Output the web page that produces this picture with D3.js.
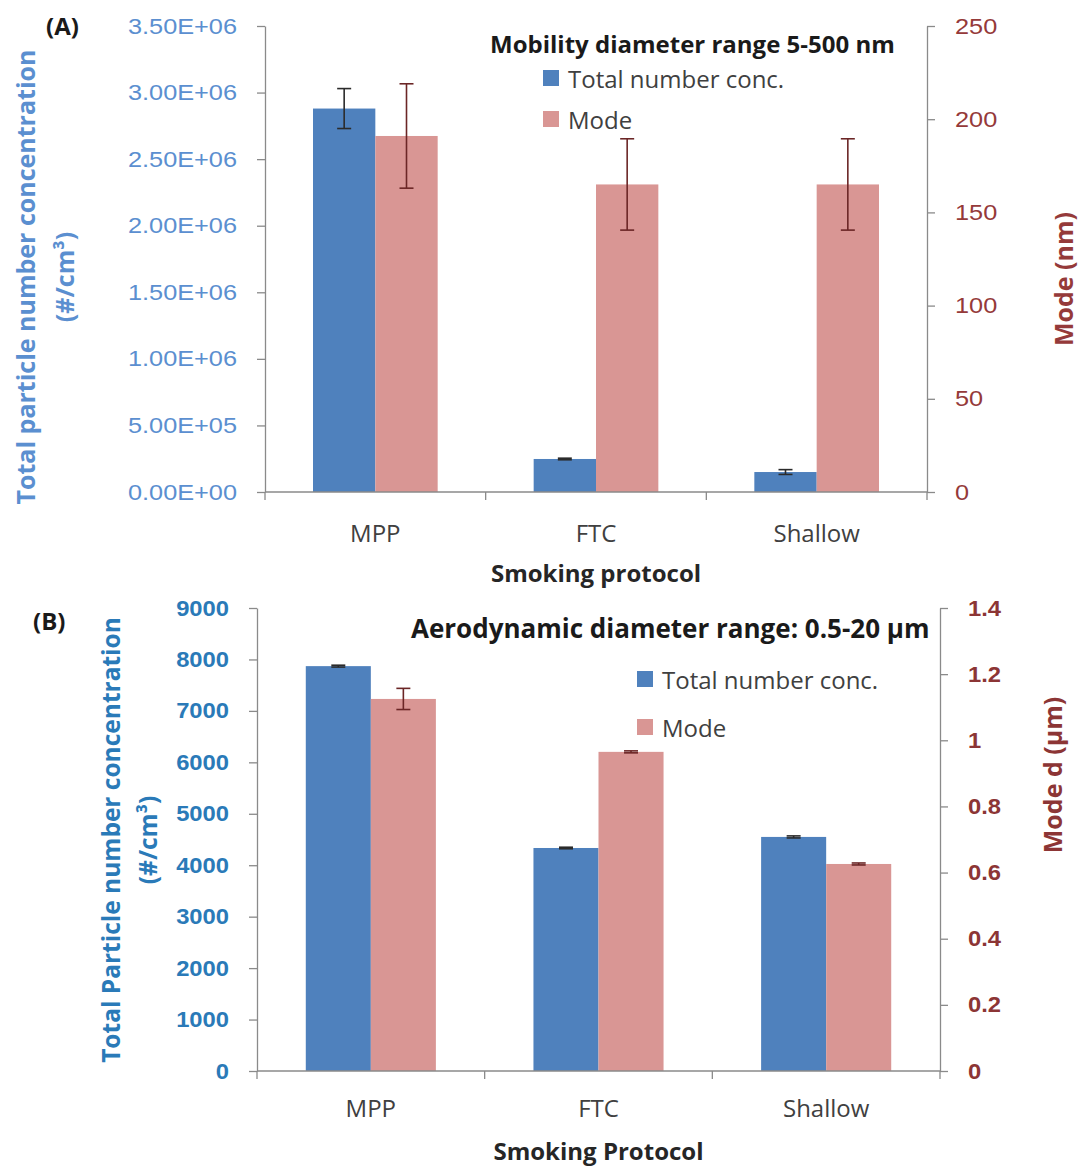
<!DOCTYPE html>
<html>
<head>
<meta charset="utf-8">
<script src="https://cdn.jsdelivr.net/npm/d3@7"></script>
<style>
  body { margin: 0; background: #fff; }
  svg { display: block; font-family: "Open Sans", "Liberation Sans", sans-serif; }
</style>
</head>
<body>
<svg id="chart" width="1088" height="1169"></svg>
<script>
// ---- data ----
const categories = ["MPP", "FTC", "Shallow"];
const seriesNames = ["Total number conc.", "Mode"];

// (A) mobility diameter range 5-500 nm
const totalConcA = [2.88e6, 2.48e5, 1.50e5];
const totalConcErrA = [1.5e5, 6e3, 1.8e4];
const modeNmA = [191, 165, 165];
const modeNmErrA = [28, 24.5, 24.5];
const leftTicksA = [0, 5e5, 1e6, 1.5e6, 2e6, 2.5e6, 3e6, 3.5e6];
const rightTicksA = [0, 50, 100, 150, 200, 250];

// (B) aerodynamic diameter range 0.5-20 µm
const totalConcB = [7870, 4335, 4550];
const totalConcErrB = [18, 15, 20];
const modeUmB = [1.125, 0.965, 0.626];
const modeUmErrB = [0.032, 0.003, 0.003];
const leftTicksB = [0, 1000, 2000, 3000, 4000, 5000, 6000, 7000, 8000, 9000];
const rightTicksB = [0, 0.2, 0.4, 0.6, 0.8, 1, 1.2, 1.4];

// ---- styles ----
const BAR_COLORS = ["#4f81bd", "#d99694"];
const ERR_COLORS = ["#2b2b2b", "#6b2626"];
const AXIS_COLOR = "#8a8a8a";
const TEXT_DARK = "#404040";

const svg = d3.select("#chart");

// Excel-style "0.00E+00" tick labels
function sciFmt(v) {
  if (v === 0) return "0.00E+00";
  const e = Math.floor(Math.log10(v));
  const m = v / Math.pow(10, e);
  return m.toFixed(2) + "E+" + String(e).padStart(2, "0");
}

// stretch glyphs horizontally by factor k
function widen(sel, k) {
  sel.each(function () {
    const L = this.getComputedTextLength();
    this.setAttribute("textLength", L * k);
    this.setAttribute("lengthAdjust", "spacingAndGlyphs");
  });
}

function drawPanel(p) {
  const g = svg.append("g");

  const x = d3.scaleBand().domain(categories).range([p.x0, p.x1]);
  const sub = d3.scaleBand().domain([0, 1]).range([0, x.bandwidth()])
    .paddingInner(0).paddingOuter(p.outerPad);
  const yL = d3.scaleLinear().domain([0, d3.max(p.leftTicks)]).range([p.y1, p.y0]);
  const yR = d3.scaleLinear().domain([0, d3.max(p.rightTicks)]).range([p.y1, p.y0]);
  const scales = [yL, yR];

  const rows = [];
  categories.forEach((c, i) => {
    p.series.forEach((s, si) => {
      rows.push({ cat: c, si, v: s.values[i], e: s.errors[i] });
    });
  });

  // bars
  g.append("g").selectAll("rect").data(rows).join("rect")
    .attr("x", d => x(d.cat) + sub(d.si))
    .attr("width", sub.bandwidth())
    .attr("y", d => scales[d.si](d.v))
    .attr("height", d => p.y1 - scales[d.si](d.v))
    .attr("fill", d => BAR_COLORS[d.si]);

  // error bars
  const capW = 7;
  const eg = g.append("g").selectAll("g").data(rows).join("g")
    .attr("stroke", d => ERR_COLORS[d.si])
    .attr("stroke-width", 1.6)
    .attr("fill", "none");
  const cx = d => x(d.cat) + sub(d.si) + sub.bandwidth() / 2;
  eg.append("line")
    .attr("x1", cx).attr("x2", cx)
    .attr("y1", d => scales[d.si](d.v + d.e))
    .attr("y2", d => scales[d.si](d.v - d.e));
  eg.append("line")
    .attr("x1", d => cx(d) - capW).attr("x2", d => cx(d) + capW)
    .attr("y1", d => scales[d.si](d.v + d.e)).attr("y2", d => scales[d.si](d.v + d.e));
  eg.append("line")
    .attr("x1", d => cx(d) - capW).attr("x2", d => cx(d) + capW)
    .attr("y1", d => scales[d.si](d.v - d.e)).attr("y2", d => scales[d.si](d.v - d.e));

  // left axis
  const axL = g.append("g").attr("transform", `translate(${p.x0},0)`)
    .call(d3.axisLeft(yL).tickValues(p.leftTicks).tickFormat(p.leftFmt)
      .tickSize(8).tickSizeOuter(0).tickPadding(p.tickPad));
  // right axis
  const axR = g.append("g").attr("transform", `translate(${p.x1},0)`)
    .call(d3.axisRight(yR).tickValues(p.rightTicks).tickFormat(p.rightFmt)
      .tickSize(8).tickSizeOuter(0).tickPadding(p.tickPad));
  [axL, axR].forEach(a => {
    a.selectAll("path, line").attr("stroke", AXIS_COLOR).attr("stroke-width", 1.3);
    a.selectAll("text").attr("font-family", null)
      .attr("font-size", p.tickSize).attr("font-weight", p.tickWeight);
  });
  axL.selectAll("text").attr("fill", p.leftColor);
  axR.selectAll("text").attr("fill", p.rightColor);
  widen(axL.selectAll("text"), p.tickStretch);
  widen(axR.selectAll("text"), p.tickStretch);

  // category axis: baseline, boundary ticks and labels
  const xa = g.append("g");
  xa.append("line").attr("x1", p.x0).attr("x2", p.x1)
    .attr("y1", p.y1).attr("y2", p.y1)
    .attr("stroke", AXIS_COLOR).attr("stroke-width", 1.3);
  const bounds = d3.range(categories.length + 1).map(i => p.x0 + i * x.step());
  xa.selectAll("line.tk").data(bounds).join("line").attr("class", "tk")
    .attr("x1", d => d).attr("x2", d => d)
    .attr("y1", p.y1).attr("y2", p.y1 + 8)
    .attr("stroke", AXIS_COLOR).attr("stroke-width", 1.3);
  xa.selectAll("text").data(categories).join("text")
    .attr("x", d => x(d) + x.bandwidth() / 2)
    .attr("y", p.xLabelY)
    .attr("text-anchor", "middle")
    .attr("font-size", 24)
    .attr("fill", TEXT_DARK)
    .text(d => d);

  // x-axis title
  g.append("text")
    .attr("x", (p.x0 + p.x1) / 2).attr("y", p.xTitleY)
    .attr("text-anchor", "middle")
    .attr("font-size", 24).attr("font-weight", 700)
    .attr("fill", "#262626")
    .text(p.xTitle);

  // left title (two rotated lines)
  p.leftTitle.forEach((t, i) => {
    g.append("text")
      .attr("transform", `translate(${p.leftTitleX[i]},${p.leftTitleY}) rotate(-90)`)
      .attr("text-anchor", "middle")
      .attr("dominant-baseline", "central")
      .attr("font-size", p.leftTitleSize).attr("font-weight", 700)
      .attr("fill", p.leftColor)
      .text(t);
  });

  // right title
  g.append("text")
    .attr("transform", `translate(${p.rightTitleX},${p.rightTitleY}) rotate(-90)`)
    .attr("text-anchor", "middle")
    .attr("dominant-baseline", "central")
    .attr("font-size", 25).attr("font-weight", 700)
    .attr("fill", p.rightColor)
    .text(p.rightTitle);

  // legend
  g.append("text")
    .attr("x", p.legTitleX).attr("y", p.legTitleY)
    .attr("font-size", p.legTitleSize).attr("font-weight", 700)
    .attr("fill", "#1a1a1a")
    .text(p.legTitle);
  seriesNames.forEach((n, i) => {
    const cy = p.legRowY[i];
    g.append("rect")
      .attr("x", p.legBoxX).attr("y", cy - 8)
      .attr("width", 16).attr("height", 16)
      .attr("fill", BAR_COLORS[i]);
    g.append("text")
      .attr("x", p.legBoxX + 25).attr("y", cy)
      .attr("dominant-baseline", "central")
      .attr("font-size", 24)
      .attr("fill", TEXT_DARK)
      .text(n);
  });

  // panel tag
  g.append("text")
    .attr("x", p.tagX).attr("y", p.tagY)
    .attr("font-size", 24).attr("font-weight", 700)
    .attr("fill", "#1a1a1a")
    .text(p.tag);
}

drawPanel({
  tag: "(A)", tagX: 46, tagY: 35,
  x0: 265, x1: 927, y0: 26, y1: 492, outerPad: 0.77,
  series: [
    { values: totalConcA, errors: totalConcErrA },
    { values: modeNmA, errors: modeNmErrA }
  ],
  leftTicks: leftTicksA, rightTicks: rightTicksA,
  leftFmt: sciFmt, rightFmt: d3.format("d"),
  tickPad: 20, tickSize: 22, tickWeight: 400, tickStretch: 1.15,
  leftColor: "#5b8fd0", rightColor: "#953a3a",
  xLabelY: 542, xTitleY: 582, xTitle: "Smoking protocol",
  leftTitle: ["Total particle number concentration", "(#/cm³)"],
  leftTitleX: [25, 64], leftTitleY: 277, leftTitleSize: 25,
  rightTitle: "Mode (nm)", rightTitleX: 1063, rightTitleY: 279,
  legTitle: "Mobility diameter range 5-500 nm",
  legTitleX: 490, legTitleY: 53, legTitleSize: 24,
  legBoxX: 543, legRowY: [78, 119]
});

drawPanel({
  tag: "(B)", tagX: 33, tagY: 630,
  x0: 257, x1: 940, y0: 608, y1: 1071, outerPad: 0.75,
  series: [
    { values: totalConcB, errors: totalConcErrB },
    { values: modeUmB, errors: modeUmErrB }
  ],
  leftTicks: leftTicksB, rightTicks: rightTicksB,
  leftFmt: d3.format("d"), rightFmt: d3.format("~g"),
  tickPad: 20, tickSize: 22, tickWeight: 700, tickStretch: 1.08,
  leftColor: "#2a7ab8", rightColor: "#8c3535",
  xLabelY: 1117, xTitleY: 1160, xTitle: "Smoking Protocol",
  leftTitle: ["Total Particle number concentration", "(#/cm³)"],
  leftTitleX: [110, 147], leftTitleY: 840, leftTitleSize: 24.5,
  rightTitle: "Mode d (µm)", rightTitleX: 1052, rightTitleY: 775,
  legTitle: "Aerodynamic diameter range: 0.5-20 µm",
  legTitleX: 411, legTitleY: 638, legTitleSize: 26,
  legBoxX: 637, legRowY: [679, 727]
});
</script>
</body>
</html>
